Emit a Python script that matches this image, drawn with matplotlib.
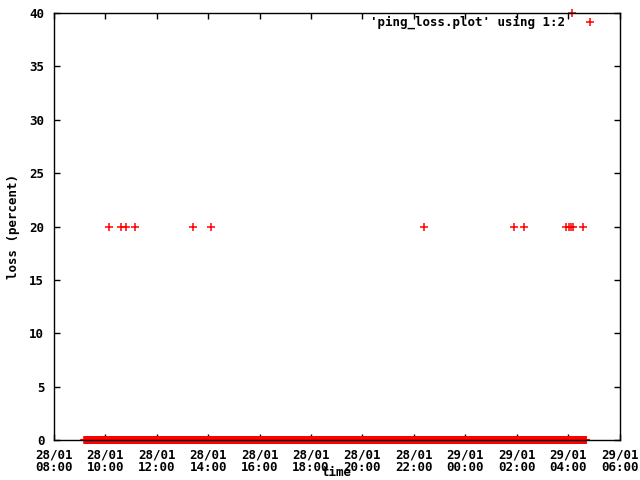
import matplotlib
matplotlib.use("Agg")
import matplotlib.pyplot as plt
import matplotlib.dates as mdates
import pandas as pd

# time window of the x axis
x_start = "2013-01-28 08:00"
x_end = "2013-01-29 06:00"

# first and last ping sample (loss 0 between, one sample per minute)
first_sample = "2013-01-28 09:11"
last_sample = "2013-01-29 04:42"

# samples with packet loss
loss_times = [
    "2013-01-28 10:08", "2013-01-28 10:36", "2013-01-28 10:47",
    "2013-01-28 11:09", "2013-01-28 13:24", "2013-01-28 14:06",
    "2013-01-28 22:23", "2013-01-29 01:54", "2013-01-29 02:17",
    "2013-01-29 03:56", "2013-01-29 04:01", "2013-01-29 04:06",
    "2013-01-29 04:11", "2013-01-29 04:34", "2013-01-29 04:10",
]
loss_values = [20, 20, 20, 20, 20, 20, 20, 20, 20, 20, 20, 20, 20, 20, 40]

y_ticks = [0, 5, 10, 15, 20, 25, 30, 35, 40]

loss_set = set(pd.to_datetime(loss_times))
zero_times = [t for t in pd.date_range(first_sample, last_sample, freq="1min") if t not in loss_set]

times = list(zero_times) + list(pd.to_datetime(loss_times))
loss = [0] * len(zero_times) + loss_values

plt.rcParams['font.family'] = ['DejaVu Sans Mono']
plt.rcParams['font.weight'] = 'bold'

fig = plt.figure(figsize=(6.4, 4.8), dpi=100)
ax = fig.add_axes([54 / 640, 1 - 440 / 480, 565.5 / 640, 427 / 480])

ax.plot(times, loss, linestyle='none', marker='+', color='red',
        markersize=5.5, markeredgewidth=1.1, clip_on=False,
        label="'ping_loss.plot' using 1:2")

ax.set_xlim(pd.Timestamp(x_start), pd.Timestamp(x_end))
ax.set_ylim(0, 40)
ax.set_yticks(y_ticks)
ax.xaxis.set_major_locator(mdates.HourLocator(interval=2))
ax.xaxis.set_major_formatter(mdates.DateFormatter('%d/%m\n%H:%M'))

ax.tick_params(direction='in', length=4, width=1, top=True, right=True,
               labelsize=9, colors='black')
ax.tick_params(axis='x', pad=6)
ax.tick_params(axis='y', pad=7)
for lbl in ax.get_xticklabels() + ax.get_yticklabels():
    lbl.set_fontweight('bold')
    lbl.set_linespacing(0.95)
for sp in ax.spines.values():
    sp.set_zorder(5)
    sp.set_linewidth(1)

ax.set_xlabel('time', fontsize=9, fontweight='bold', labelpad=-6)
ax.set_ylabel('loss (percent)', fontsize=9, fontweight='bold', labelpad=7)

leg = ax.legend(loc='upper right', frameon=False, markerfirst=False,
                handlelength=2.24, handletextpad=0.8, borderpad=0,
                borderaxespad=0, bbox_to_anchor=(1 - 16 / 565.5, 1 - 3 / 427),
                prop={'weight': 'bold', 'size': 9})

fig.savefig('out.png', dpi=100)
